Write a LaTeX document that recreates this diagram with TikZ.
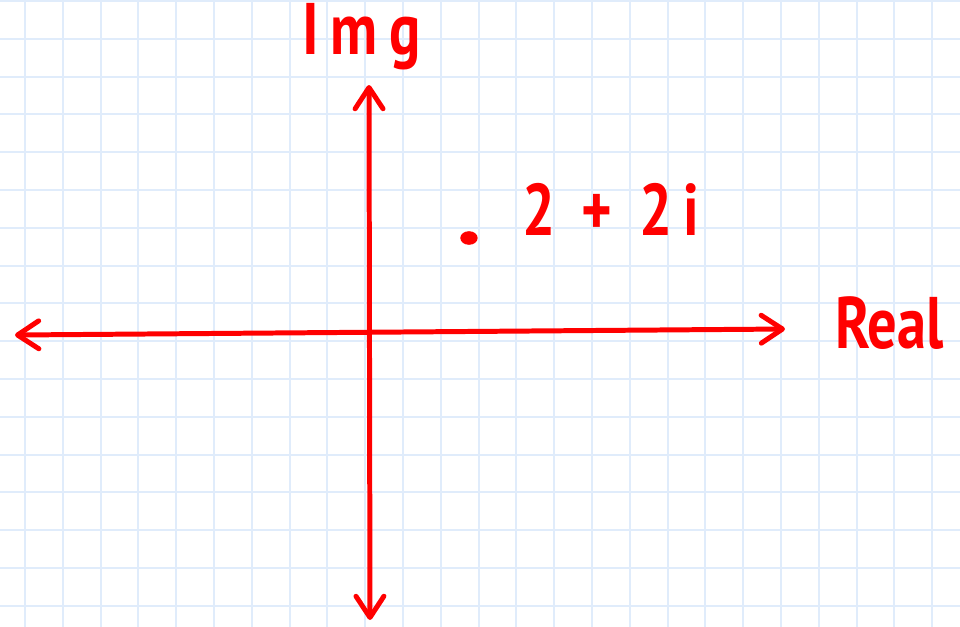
\documentclass[tikz,border=0pt]{standalone}
\usepackage{fontspec}
\setmainfont[FakeStretch=0.8]{PT Sans}
\usepackage{tikz}
\usetikzlibrary{arrows.meta}
\definecolor{gridblue}{RGB}{224,236,251}

\begin{document}
\begin{tikzpicture}[>={Straight Barb[length=16pt,width=21pt,round]},
  axis/.style={red,line width=3.75pt,line cap=round},
  lbl/.style={red,inner sep=0pt,font=\fontsize{55}{55}\selectfont\bfseries}]
\useasboundingbox (0,0) rectangle (25.397,16.561);
\clip (0,0) rectangle (25.397,16.561);
\fill[white] (0,0) rectangle (25.397,16.561);
\draw[gridblue,line width=1.5pt,shift={(0.661,0.534)}] (-1,-1) grid (25,16);

\coordinate (west) at (0.397,7.698);
\coordinate (east) at (20.767,7.857);
\coordinate (south) at (9.788,0.159);
\coordinate (north) at (9.762,14.312);
\draw[axis,<->] (west) -- (east);
\draw[axis,<->] (south) -- (north);

\coordinate (pt) at (12.407,10.265);
\fill[red] (pt) ellipse (0.23 and 0.18);

\node[lbl,anchor=base west] (img) at (8.0,15.106) {\addfontfeature{LetterSpace=16}Img};
\node[lbl,anchor=base west] (num) at (13.81,10.344) {\addfontfeature{LetterSpace=16}2 + 2i};
\node[lbl,anchor=base west] (real) at (22.09,7.354) {Real};
\end{tikzpicture}
\end{document}
